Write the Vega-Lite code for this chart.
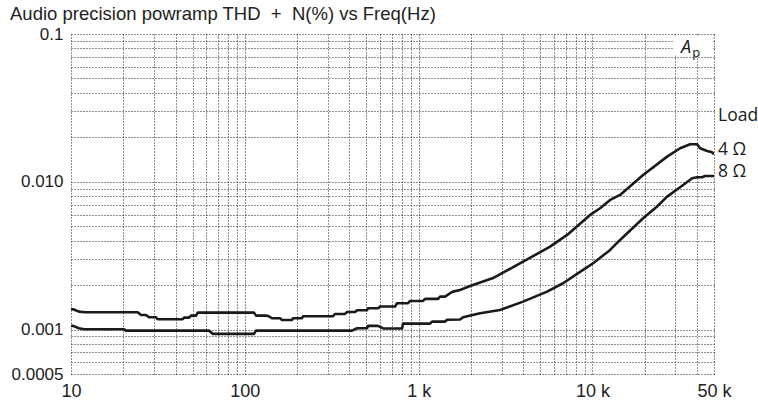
{
  "$schema": "https://vega.github.io/schema/vega-lite/v6.json",
  "autosize": {"type": "none"},
  "width": 643,
  "height": 340,
  "padding": {"left": 71, "top": 34, "right": 44, "bottom": 27},
  "background": "white",
  "view": {"stroke": null},
  "title": {
    "text": "Audio precision powramp THD\u00a0\u00a0+\u00a0\u00a0N(%) vs Freq(Hz)",
    "anchor": "start",
    "frame": "group",
    "dx": -61,
    "dy": 6,
    "offset": 8,
    "font": "Liberation Sans",
    "fontSize": 18.5,
    "fontWeight": "normal",
    "color": "#222222"
  },
  "data": {"values": [{}]},
  "datasets": {
    "curves": [
      {"load": "4 Ω", "freq": 10, "thd": 0.001372},
      {"load": "4 Ω", "freq": 10.3, "thd": 0.001372},
      {"load": "4 Ω", "freq": 11.1, "thd": 0.001322},
      {"load": "4 Ω", "freq": 12, "thd": 0.001309},
      {"load": "4 Ω", "freq": 24.2, "thd": 0.001309},
      {"load": "4 Ω", "freq": 25.3, "thd": 0.001255},
      {"load": "4 Ω", "freq": 27.0, "thd": 0.001255},
      {"load": "4 Ω", "freq": 28.1, "thd": 0.001211},
      {"load": "4 Ω", "freq": 30.8, "thd": 0.001211},
      {"load": "4 Ω", "freq": 31.5, "thd": 0.001174},
      {"load": "4 Ω", "freq": 43.9, "thd": 0.001174},
      {"load": "4 Ω", "freq": 44.7, "thd": 0.001204},
      {"load": "4 Ω", "freq": 47.8, "thd": 0.001204},
      {"load": "4 Ω", "freq": 49.0, "thd": 0.001242},
      {"load": "4 Ω", "freq": 52.4, "thd": 0.001242},
      {"load": "4 Ω", "freq": 53.6, "thd": 0.001301},
      {"load": "4 Ω", "freq": 112.9, "thd": 0.001301},
      {"load": "4 Ω", "freq": 116, "thd": 0.001242},
      {"load": "4 Ω", "freq": 132, "thd": 0.001242},
      {"load": "4 Ω", "freq": 136, "thd": 0.001236},
      {"load": "4 Ω", "freq": 143.4, "thd": 0.001192},
      {"load": "4 Ω", "freq": 159.4, "thd": 0.001192},
      {"load": "4 Ω", "freq": 163.7, "thd": 0.001161},
      {"load": "4 Ω", "freq": 186.9, "thd": 0.001161},
      {"load": "4 Ω", "freq": 189.4, "thd": 0.001192},
      {"load": "4 Ω", "freq": 213.3, "thd": 0.001192},
      {"load": "4 Ω", "freq": 216.2, "thd": 0.00123},
      {"load": "4 Ω", "freq": 321.8, "thd": 0.00123},
      {"load": "4 Ω", "freq": 330.4, "thd": 0.001275},
      {"load": "4 Ω", "freq": 377.2, "thd": 0.001275},
      {"load": "4 Ω", "freq": 387.3, "thd": 0.001315},
      {"load": "4 Ω", "freq": 430.6, "thd": 0.001315},
      {"load": "4 Ω", "freq": 442.2, "thd": 0.001351},
      {"load": "4 Ω", "freq": 504.8, "thd": 0.001351},
      {"load": "4 Ω", "freq": 511.5, "thd": 0.001394},
      {"load": "4 Ω", "freq": 583.9, "thd": 0.001394},
      {"load": "4 Ω", "freq": 599.6, "thd": 0.00143},
      {"load": "4 Ω", "freq": 731.5, "thd": 0.00143},
      {"load": "4 Ω", "freq": 751.1, "thd": 0.001506},
      {"load": "4 Ω", "freq": 869, "thd": 0.001506},
      {"load": "4 Ω", "freq": 892.3, "thd": 0.001561},
      {"load": "4 Ω", "freq": 1060, "thd": 0.001561},
      {"load": "4 Ω", "freq": 1088, "thd": 0.001611},
      {"load": "4 Ω", "freq": 1293, "thd": 0.001611},
      {"load": "4 Ω", "freq": 1328, "thd": 0.00167},
      {"load": "4 Ω", "freq": 1419, "thd": 0.00167},
      {"load": "4 Ω", "freq": 1516, "thd": 0.001761},
      {"load": "4 Ω", "freq": 1577, "thd": 0.001805},
      {"load": "4 Ω", "freq": 1730, "thd": 0.001853},
      {"load": "4 Ω", "freq": 1976, "thd": 0.001972},
      {"load": "4 Ω", "freq": 2680, "thd": 0.00223},
      {"load": "4 Ω", "freq": 3988, "thd": 0.00288},
      {"load": "4 Ω", "freq": 5702, "thd": 0.003638},
      {"load": "4 Ω", "freq": 7143, "thd": 0.004366},
      {"load": "4 Ω", "freq": 9687, "thd": 0.005963},
      {"load": "4 Ω", "freq": 11060, "thd": 0.006617},
      {"load": "4 Ω", "freq": 12630, "thd": 0.007533},
      {"load": "4 Ω", "freq": 14410, "thd": 0.008141},
      {"load": "4 Ω", "freq": 19550, "thd": 0.01112},
      {"load": "4 Ω", "freq": 26870, "thd": 0.01479},
      {"load": "4 Ω", "freq": 31920, "thd": 0.01686},
      {"load": "4 Ω", "freq": 36440, "thd": 0.01793},
      {"load": "4 Ω", "freq": 39980, "thd": 0.01793},
      {"load": "4 Ω", "freq": 41600, "thd": 0.01686},
      {"load": "4 Ω", "freq": 45650, "thd": 0.01616},
      {"load": "4 Ω", "freq": 48770, "thd": 0.01583},
      {"load": "4 Ω", "freq": 50000, "thd": 0.01535},
      {"load": "8 Ω", "freq": 10, "thd": 0.001058},
      {"load": "8 Ω", "freq": 10.3, "thd": 0.001058},
      {"load": "8 Ω", "freq": 11.1, "thd": 0.00102},
      {"load": "8 Ω", "freq": 11.9, "thd": 0.001005},
      {"load": "8 Ω", "freq": 20.2, "thd": 0.001005},
      {"load": "8 Ω", "freq": 20.7, "thd": 0.000983},
      {"load": "8 Ω", "freq": 62.2, "thd": 0.000983},
      {"load": "8 Ω", "freq": 65.6, "thd": 0.000934},
      {"load": "8 Ω", "freq": 112.9, "thd": 0.000934},
      {"load": "8 Ω", "freq": 116, "thd": 0.000983},
      {"load": "8 Ω", "freq": 413.8, "thd": 0.000983},
      {"load": "8 Ω", "freq": 442.2, "thd": 0.00102},
      {"load": "8 Ω", "freq": 504.8, "thd": 0.00102},
      {"load": "8 Ω", "freq": 511.5, "thd": 0.001058},
      {"load": "8 Ω", "freq": 583.9, "thd": 0.001058},
      {"load": "8 Ω", "freq": 624, "thd": 0.001017},
      {"load": "8 Ω", "freq": 802.6, "thd": 0.001017},
      {"load": "8 Ω", "freq": 813.3, "thd": 0.001097},
      {"load": "8 Ω", "freq": 1163, "thd": 0.001097},
      {"load": "8 Ω", "freq": 1194, "thd": 0.001131},
      {"load": "8 Ω", "freq": 1419, "thd": 0.001131},
      {"load": "8 Ω", "freq": 1457, "thd": 0.001165},
      {"load": "8 Ω", "freq": 1730, "thd": 0.001168},
      {"load": "8 Ω", "freq": 1801, "thd": 0.001211},
      {"load": "8 Ω", "freq": 2256, "thd": 0.001289},
      {"load": "8 Ω", "freq": 2940, "thd": 0.001357},
      {"load": "8 Ω", "freq": 3988, "thd": 0.001544},
      {"load": "8 Ω", "freq": 5480, "thd": 0.001805},
      {"load": "8 Ω", "freq": 6773, "thd": 0.002057},
      {"load": "8 Ω", "freq": 8830, "thd": 0.002531},
      {"load": "8 Ω", "freq": 10080, "thd": 0.00281},
      {"load": "8 Ω", "freq": 12630, "thd": 0.003456},
      {"load": "8 Ω", "freq": 14410, "thd": 0.004039},
      {"load": "8 Ω", "freq": 19550, "thd": 0.005662},
      {"load": "8 Ω", "freq": 23530, "thd": 0.0068},
      {"load": "8 Ω", "freq": 26870, "thd": 0.00793},
      {"load": "8 Ω", "freq": 31920, "thd": 0.00918},
      {"load": "8 Ω", "freq": 37420, "thd": 0.01056},
      {"load": "8 Ω", "freq": 39980, "thd": 0.01072},
      {"load": "8 Ω", "freq": 42720, "thd": 0.01072},
      {"load": "8 Ω", "freq": 44460, "thd": 0.01094},
      {"load": "8 Ω", "freq": 50000, "thd": 0.01094}
    ],
    "labels": [
      {"label": "Load", "freq": 50000, "thd": 0.0279},
      {"label": "4 Ω", "freq": 50000, "thd": 0.0164},
      {"label": "8 Ω", "freq": 50000, "thd": 0.01165}
    ]
  },
  "layer": [
    {
      "data": {"name": "curves"},
      "mark": {"type": "line", "color": "#1a1a1a", "strokeWidth": 2.6, "strokeJoin": "round", "clip": true},
      "encoding": {
        "x": {
          "field": "freq", "type": "quantitative",
          "scale": {"type": "log", "domain": [10, 50000]},
          "axis": {
            "title": null,
            "values": [10,20,30,40,50,60,70,80,90,100,200,300,400,500,600,700,800,900,1000,2000,3000,4000,5000,6000,7000,8000,9000,10000,20000,30000,40000,50000],
            "labelExpr": "datum.value == 10 ? '10' : datum.value == 100 ? '100' : datum.value == 1000 ? '1 k' : datum.value == 10000 ? '10 k' : datum.value == 50000 ? '50 k' : ''",
            "grid": true, "gridDash": [1, 2], "gridColor": "#222222", "gridWidth": 1, "gridOpacity": 1,
            "ticks": false, "domain": false,
            "labelFont": "Liberation Sans", "labelFontSize": 18, "labelColor": "#222222",
            "labelPadding": 8, "labelOverlap": false, "labelFlush": false, "labelBound": false
          }
        },
        "y": {
          "field": "thd", "type": "quantitative",
          "scale": {"type": "log", "domain": [0.0005, 0.1]},
          "axis": {
            "title": null,
            "values": [0.0005,0.0006,0.0007,0.0008,0.0009,0.001,0.002,0.003,0.004,0.005,0.006,0.007,0.008,0.009,0.01,0.02,0.03,0.04,0.05,0.06,0.07,0.08,0.09,0.1],
            "labelExpr": "datum.value == 0.1 ? '0.1' : datum.value == 0.01 ? '0.010' : datum.value == 0.001 ? '0.001' : datum.value == 0.0005 ? '0.0005' : ''",
            "grid": true, "gridDash": [1, 2], "gridColor": "#222222", "gridWidth": 1, "gridOpacity": 1,
            "ticks": false, "domain": false,
            "labelFont": "Liberation Sans", "labelFontSize": 17, "labelColor": "#222222",
            "labelPadding": 8, "labelOverlap": false, "labelBound": false
          }
        },
        "detail": {"field": "load", "type": "nominal"}
      }
    },
    {
      "mark": {"type": "rect", "fill": "white", "stroke": null},
      "encoding": {
        "x": {"datum": 29000, "type": "quantitative", "scale": {"type": "log", "domain": [10, 50000]}},
        "x2": {"datum": 49000},
        "y": {"datum": 0.0715, "type": "quantitative", "scale": {"type": "log", "domain": [0.0005, 0.1]}},
        "y2": {"datum": 0.0975}
      }
    },
    {
      "data": {"name": "labels"},
      "mark": {"type": "text", "align": "left", "baseline": "middle", "dx": 4, "font": "Open Sans", "fontSize": 17.5, "color": "#1a1a1a"},
      "encoding": {
        "x": {"field": "freq", "type": "quantitative", "scale": {"type": "log", "domain": [10, 50000]}},
        "y": {"field": "thd", "type": "quantitative", "scale": {"type": "log", "domain": [0.0005, 0.1]}},
        "text": {"field": "label"}
      }
    },
    {
      "mark": {"type": "text", "align": "center", "baseline": "middle", "font": "Open Sans", "fontSize": 18, "fontStyle": "italic", "color": "#1a1a1a"},
      "encoding": {
        "x": {"datum": 34500, "type": "quantitative", "scale": {"type": "log", "domain": [10, 50000]}},
        "y": {"datum": 0.0805, "type": "quantitative", "scale": {"type": "log", "domain": [0.0005, 0.1]}},
        "text": {"value": "A"}
      }
    },
    {
      "mark": {"type": "text", "align": "left", "baseline": "middle", "font": "Open Sans", "fontSize": 13, "color": "#1a1a1a"},
      "encoding": {
        "x": {"datum": 37500, "type": "quantitative", "scale": {"type": "log", "domain": [10, 50000]}},
        "y": {"datum": 0.0745, "type": "quantitative", "scale": {"type": "log", "domain": [0.0005, 0.1]}},
        "text": {"value": "p"}
      }
    }
  ]
}
